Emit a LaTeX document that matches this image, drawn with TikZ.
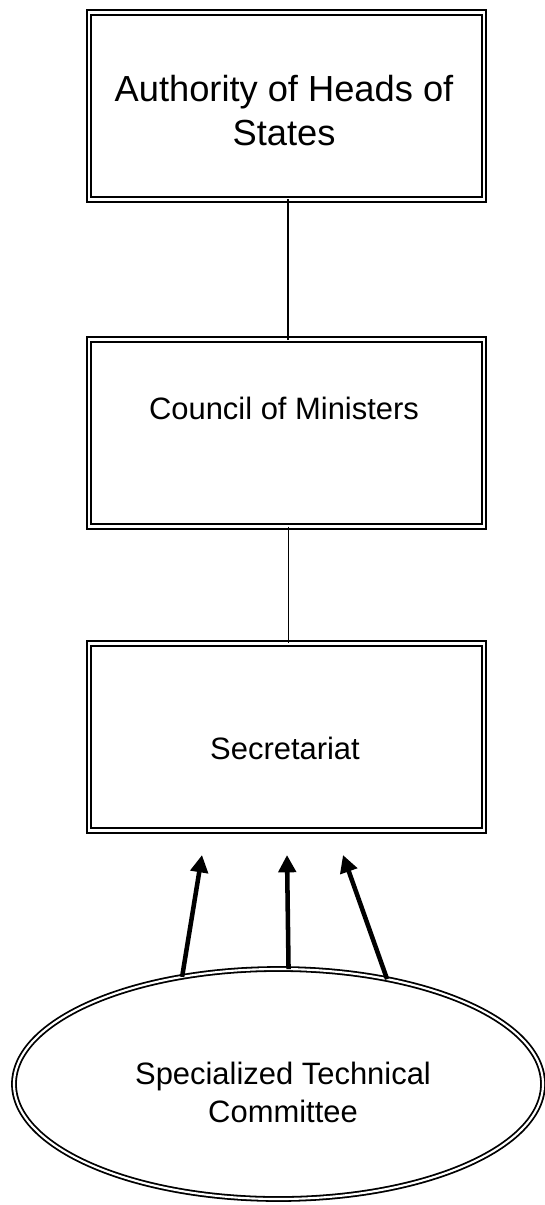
\documentclass[tikz,border=0pt]{standalone}
\usepackage{fontspec}
\setmainfont{Liberation Sans}
\usetikzlibrary{shapes.geometric,arrows.meta}
\begin{document}
\begin{tikzpicture}[x=0.75pt,y=-0.75pt,
  orgbox/.style={draw, double, line width=1.5pt, double distance=2.2pt,
    rectangle, minimum width=296.25pt, minimum height=140pt,
    inner sep=0pt, outer sep=0pt},
  committee/.style={draw, double, line width=1.35pt, double distance=1.6pt,
    ellipse, minimum width=396.75pt, minimum height=172.5pt,
    inner sep=0pt, outer sep=0pt},
  bigtext/.style={anchor=base, inner sep=0pt, font=\fontsize{27.2pt}{32.3pt}\selectfont},
  boxtext/.style={anchor=base, inner sep=0pt, font=\fontsize{23.2pt}{28.5pt}\selectfont},
  link/.style={draw, line width=0.8pt},
  feed/.style={draw, line width=3.4pt, -{Triangle[length=13pt,width=13pt]}}
]
\useasboundingbox (0,0) rectangle (545,1205);

% boxes of the hierarchy
\node[orgbox] (auth) at (286.5,106) {};
\node[orgbox] (council) at (286.5,433.2) {};
\node[orgbox] (secr) at (286.5,736.8) {};
\node[committee] (stc) at (278.5,1084) {};

% box texts
\node[bigtext] (authtext) at (284,102)
  {\begin{tabular}[t]{@{}c@{}}Authority of Heads of\\States\end{tabular}};
\node[boxtext] (counciltext) at (284,419) {Council of Ministers};
\node[boxtext] (secrtext) at (285,759) {Secretariat};
\node[boxtext] (stctext) at (283,1084)
  {\begin{tabular}[t]{@{}c@{}}Specialized Technical\\Committee\end{tabular}};

% plain links between levels
\draw[link] ([xshift=1.5*0.75pt]auth.south) -- ([xshift=1.5*0.75pt]council.north);
\draw[link] ([xshift=2*0.75pt]council.south) -- ([xshift=2*0.75pt]secr.north);

% arrows from the committee up to the secretariat
\coordinate (t1) at (202,855);
\coordinate (t2) at (287,855);
\coordinate (t3) at (343,855);
\draw[feed] (stc.132.6) -- (t1);
\draw[feed] (stc.85.8) -- (t2);
\draw[feed] (stc.44.1) -- (t3);
\end{tikzpicture}
\end{document}
